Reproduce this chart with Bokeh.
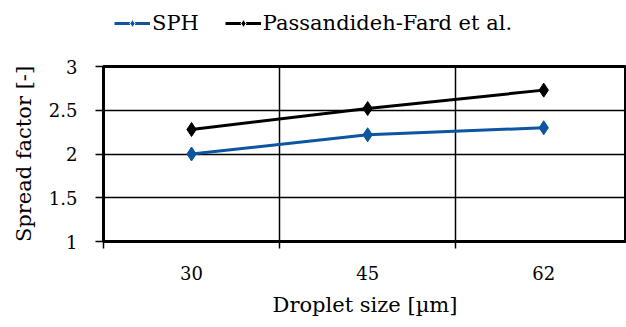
from bokeh.plotting import figure
from bokeh.layouts import column
from bokeh.models import Range1d, FixedTicker, LinearAxis, Legend, LegendItem, ColumnDataSource, Grid
from bokeh.embed import file_html
from bokeh.resources import INLINE

categories = ["30", "45", "62"]
sph = [2.00, 2.22, 2.30]
passandideh = [2.28, 2.52, 2.73]
y_ticks = [1, 1.5, 2, 2.5, 3]

FONT = "DejaVu Serif"
BLUE = "#0c55a0"

xpos = [i + 0.5 for i in range(len(categories))]
src = ColumnDataSource(dict(x=xpos, sph=sph, pf=passandideh))

LEG_H = 46

p = figure(width=626, height=327 - LEG_H, output_backend="svg", toolbar_location=None,
           x_range=Range1d(0, 2.97), y_range=Range1d(1, 3),
           x_axis_location=None, y_axis_location=None,
           min_border_left=103, min_border_right=0, min_border_top=66 - LEG_H, min_border_bottom=86)

p.background_fill_color = "white"
p.border_fill_color = "white"
p.outline_line_color = "black"
p.outline_line_width = 3

# y axis
yax = LinearAxis(ticker=FixedTicker(ticks=y_ticks), axis_label="Spread factor [-]")
yax.major_label_overrides = {1: "1", 1.5: "1.5", 2: "2", 2.5: "2.5", 3: "3"}
yax.axis_line_width = 3
yax.major_tick_out = 8
yax.major_tick_in = 0
yax.major_tick_line_width = 1.5
yax.minor_tick_line_color = None
yax.major_label_standoff = 18
yax.major_label_text_font = FONT
yax.major_label_text_font_size = "18px"
yax.major_label_text_color = "black"
yax.axis_label_text_font = FONT
yax.axis_label_text_font_size = "21px"
yax.axis_label_text_font_style = "normal"
yax.axis_label_text_color = "black"
yax.axis_label_standoff = 10
p.add_layout(yax, "left")

# x axis: boundary ticks
xtick_ax = LinearAxis(ticker=FixedTicker(ticks=[0, 1, 2, 3]))
xtick_ax.major_label_overrides = {0: " ", 1: " ", 2: " ", 3: " "}
xtick_ax.major_label_text_font_size = "2px"
xtick_ax.major_label_standoff = 0
xtick_ax.axis_line_width = 3
xtick_ax.major_tick_out = 7
xtick_ax.major_tick_in = 0
xtick_ax.major_tick_line_width = 1.5
xtick_ax.minor_tick_line_color = None
p.add_layout(xtick_ax, "below")

# x axis: category labels
xlab_ax = LinearAxis(ticker=FixedTicker(ticks=xpos), axis_label="Droplet size [µm]")
xlab_ax.major_label_overrides = {x: c for x, c in zip(xpos, categories)}
xlab_ax.axis_line_color = None
xlab_ax.major_tick_line_color = None
xlab_ax.minor_tick_line_color = None
xlab_ax.major_tick_out = 0
xlab_ax.major_tick_in = 0
xlab_ax.major_label_standoff = 12
xlab_ax.major_label_text_font = FONT
xlab_ax.major_label_text_font_size = "18px"
xlab_ax.major_label_text_color = "black"
xlab_ax.axis_label_text_font = FONT
xlab_ax.axis_label_text_font_size = "21px"
xlab_ax.axis_label_text_font_style = "normal"
xlab_ax.axis_label_text_color = "black"
xlab_ax.axis_label_standoff = 10
p.add_layout(xlab_ax, "below")

# grids
p.xgrid.visible = False
p.ygrid.visible = False
vg = Grid(dimension=0, ticker=FixedTicker(ticks=[1, 2]), grid_line_color="black", grid_line_width=1.5)
hg = Grid(dimension=1, ticker=FixedTicker(ticks=[1.5, 2, 2.5]), grid_line_color="black", grid_line_width=1.5)
p.add_layout(vg)
p.add_layout(hg)

p.line("x", "sph", source=src, line_color=BLUE, line_width=3)
p.scatter("x", "sph", source=src, marker="diamond", size=14, fill_color=BLUE, line_color=BLUE)
p.line("x", "pf", source=src, line_color="black", line_width=3)
p.scatter("x", "pf", source=src, marker="diamond", size=14, fill_color="black", line_color="black")

# legend strip (separate figure, same series drawn outside its visible range)
lg = figure(width=626, height=LEG_H, output_backend="svg", toolbar_location=None,
            x_range=Range1d(10, 11), y_range=Range1d(10, 11),
            x_axis_location=None, y_axis_location=None,
            min_border=0, min_border_left=0, min_border_right=0,
            min_border_top=0, min_border_bottom=0, outline_line_color=None)
lg.xgrid.visible = False
lg.ygrid.visible = False
l1 = lg.line("x", "sph", source=src, line_color=BLUE, line_width=3)
m1 = lg.scatter("x", "sph", source=src, marker="diamond", size=12, fill_color=BLUE, line_color="white", line_width=1)
l2 = lg.line("x", "pf", source=src, line_color="black", line_width=3)
m2 = lg.scatter("x", "pf", source=src, marker="diamond", size=12, fill_color="black", line_color="white", line_width=1)

legend = Legend(items=[LegendItem(label="SPH", renderers=[l1, m1]),
                       LegendItem(label="Passandideh-Fard et al.", renderers=[l2, m2])],
                orientation="horizontal", location=(11, 11))
legend.label_text_font = FONT
legend.label_text_font_size = "21px"
legend.label_text_color = "black"
legend.glyph_width = 36
legend.label_standoff = 2
legend.spacing = 26
legend.border_line_color = None
legend.background_fill_alpha = 0
legend.padding = 2
legend.margin = 0
lg.add_layout(legend, "center")

layout = column(lg, p, spacing=0)
open("out.html", "w").write(file_html(layout, INLINE))
